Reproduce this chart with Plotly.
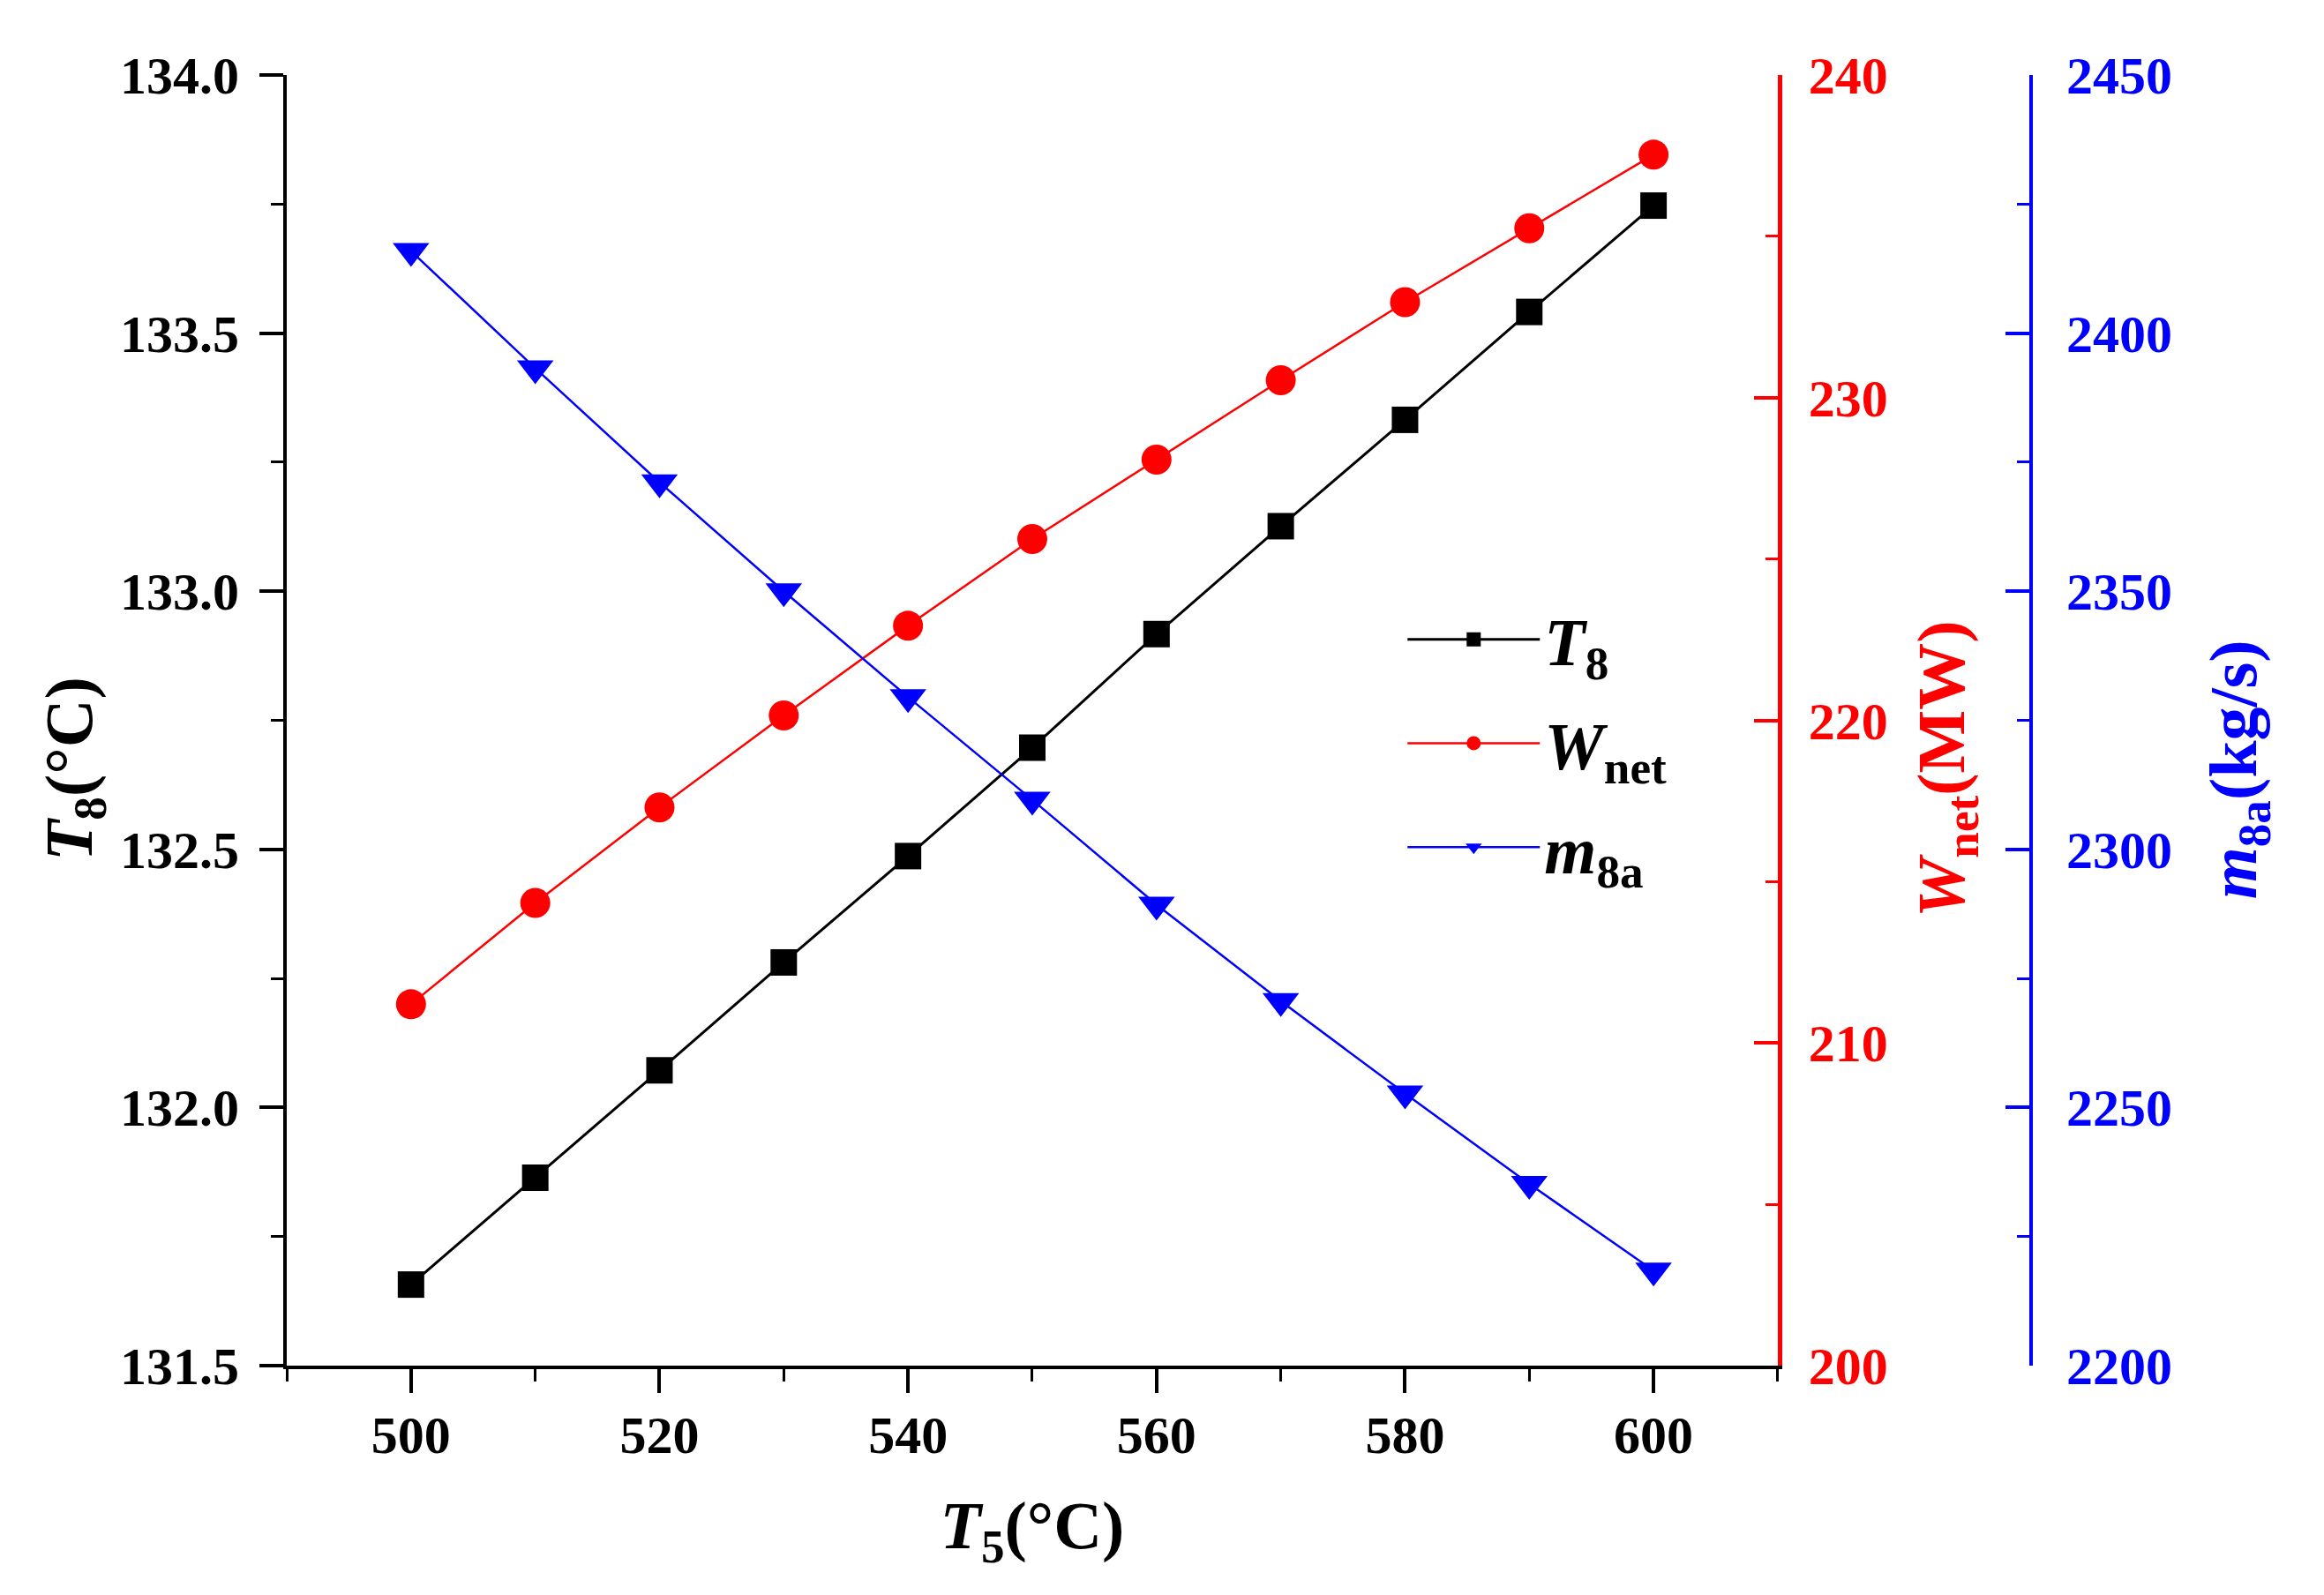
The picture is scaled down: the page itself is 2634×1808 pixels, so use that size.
import plotly.graph_objects as go

# Data
t5 = [500, 510, 520, 530, 540, 550, 560, 570, 580, 590, 600]
t8 = [131.657, 131.864, 132.072, 132.281, 132.487, 132.697, 132.917, 133.126, 133.332, 133.541, 133.747]
w_net = [211.2, 214.34, 217.3, 220.15, 222.93, 225.62, 228.08, 230.54, 232.96, 235.25, 237.53]
m_8a = [2415.9, 2393.2, 2371.1, 2350.0, 2329.5, 2309.6, 2289.3, 2270.6, 2252.7, 2235.2, 2218.4]

FONT = "Liberation Serif"
BLACK = "#000000"
RED = "#FF0000"
BLUE = "#0000FF"

fig = go.Figure()
fig.add_trace(go.Scatter(
    x=t5, y=t8, mode="lines+markers", name="<b><i>T</i><sub>8</sub></b>",
    legendgroup="a",
    line=dict(color=BLACK, width=3),
    marker=dict(symbol="square", size=30, color=BLACK),
    yaxis="y"))
fig.add_trace(go.Scatter(
    x=t5, y=w_net, mode="lines+markers", name="<b><i>W</i><sub>net</sub></b>",
    legendgroup="b",
    line=dict(color=RED, width=2.5),
    marker=dict(symbol="circle", size=34, color=RED),
    yaxis="y2"))
fig.add_trace(go.Scatter(
    x=t5, y=m_8a, mode="lines+markers", name="<b><i>m</i><sub>8a</sub></b>",
    legendgroup="c",
    line=dict(color=BLUE, width=2.5),
    marker=dict(symbol="triangle-down", size=36, color=BLUE),
    yaxis="y3"))

tick_font = lambda c: dict(family=FONT, size=60, color=c, weight="bold")
title_font = lambda c: dict(family=FONT, size=76, color=c, weight="bold")

fig.update_layout(
    width=2626, height=1800,
    margin=dict(l=317, r=332, t=77, b=260),
    paper_bgcolor="white", plot_bgcolor="white",
    font=dict(family=FONT, color=BLACK),
    showlegend=True,
    legend=dict(
        x=0.640, y=0.601, xanchor="left", yanchor="top",
        bgcolor="rgba(0,0,0,0)", borderwidth=0,
        font=dict(family=FONT, size=76, color=BLACK),
        itemwidth=150, itemsizing="trace", tracegroupgap=16,
    ),
    xaxis=dict(
        domain=[0, 0.8548], range=[490, 610],
        tick0=500, dtick=20,
        showline=True, linecolor=BLACK, linewidth=4,
        ticks="outside", ticklen=27, tickwidth=4, tickcolor=BLACK,
        minor=dict(dtick=10, tick0=490, ticks="outside", ticklen=14, tickwidth=3, tickcolor=BLACK),
        showgrid=False, zeroline=False,
        tickfont=tick_font(BLACK), ticklabelstandoff=-4,
        title=dict(text="<b><i>T</i><sub>5</sub>(°C)</b>", font=title_font(BLACK), standoff=44),
    ),
    yaxis=dict(
        range=[131.5, 134.0], dtick=0.5, tick0=131.5, tickformat=".1f",
        showline=True, linecolor=BLACK, linewidth=4,
        ticks="outside", ticklen=27, tickwidth=4, tickcolor=BLACK,
        minor=dict(dtick=0.25, ticks="outside", ticklen=14, tickwidth=3, tickcolor=BLACK),
        showgrid=False, zeroline=False,
        tickfont=tick_font(BLACK), ticklabelstandoff=11,
    ),
    yaxis2=dict(
        range=[200, 240], dtick=10, tick0=200,
        overlaying="y", side="right", anchor="x",
        showline=True, linecolor=RED, linewidth=4.5,
        ticks="inside", ticklen=27, tickwidth=4, tickcolor=RED,
        minor=dict(dtick=5, ticks="inside", ticklen=14, tickwidth=3, tickcolor=RED),
        showgrid=False, zeroline=False,
        tickfont=tick_font(RED), ticklabelstandoff=18,
    ),
    yaxis3=dict(
        range=[2200, 2450], dtick=50, tick0=2200,
        overlaying="y", side="right", anchor="free", position=1.0,
        showline=True, linecolor=BLUE, linewidth=4,
        ticks="inside", ticklen=27, tickwidth=3.5, tickcolor=BLUE,
        minor=dict(dtick=25, ticks="inside", ticklen=14, tickwidth=3, tickcolor=BLUE),
        showgrid=False, zeroline=False,
        tickfont=tick_font(BLUE), ticklabelstandoff=26,
    ),
    annotations=[
        dict(text="<b><i>T</i><sub>8</sub>(°C)</b>", font=title_font(BLACK),
             xref="paper", yref="paper", x=-0.1219, y=0.462,
             xanchor="center", yanchor="middle", textangle=-90, showarrow=False),
        dict(text="<b><i>W</i><sub>net</sub>(MW)</b>", font=title_font(RED),
             xref="paper", yref="paper", x=0.9515, y=0.462,
             xanchor="center", yanchor="middle", textangle=-90, showarrow=False),
        dict(text="<b><i>m</i><sub>8a</sub>(kg/s)</b>", font=title_font(BLUE),
             xref="paper", yref="paper", x=1.119, y=0.462,
             xanchor="center", yanchor="middle", textangle=-90, showarrow=False),
    ],
)

fig.write_html("out.html")
